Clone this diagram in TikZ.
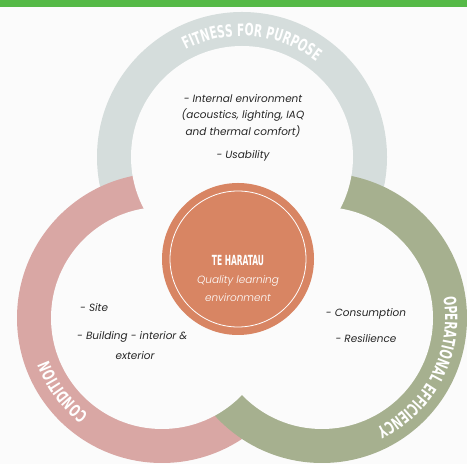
\documentclass[tikz,border=0pt]{standalone}
\usepackage{fontspec}
\setmainfont{Poppins}
\newfontfamily\subfont{Poppins Light Italic}
\newfontfamily\capsfont{DejaVu Sans Condensed}[FakeStretch=0.7]
\newfontfamily\titlefont{DejaVu Sans Condensed}[FakeStretch=0.6]
\usetikzlibrary{decorations.text,positioning}
\definecolor{barGreen}{HTML}{55B947}
\definecolor{fitGrey}{HTML}{D5DDDC}
\definecolor{condPink}{HTML}{D9A7A4}
\definecolor{opGreen}{HTML}{A6B08F}
\definecolor{coreOrange}{HTML}{D88563}
\definecolor{paper}{HTML}{FBFBFB}
\definecolor{ink}{HTML}{262626}
\tikzset{
  ringtext/.style={decorate,decoration={text along path,text align=center,
    text color=white,text={|\capsfont\bfseries\fontsize{17}{17}\selectfont|#1}}},
  item/.style={font=\itshape\fontsize{10.5}{17}\selectfont,text=ink,inner sep=0pt,align=center},
  coretext/.style={text=white,inner sep=0pt}
}
\begin{document}
\begin{tikzpicture}[x=1bp,y=1bp]
\fill[paper] (0,0) rectangle (467,464);
\fill[barGreen] (0,457) rectangle (467,464);
\coordinate (fit) at (242,307);
\coordinate (cond) at (162,146);
\coordinate (oper) at (322,146);
\fill[fitGrey] (fit) circle[radius=145];
\fill[condPink] (cond) circle[radius=145];
\fill[opGreen] (oper) circle[radius=145];
\foreach \c in {fit,cond,oper}
  \fill[paper] (\c) circle[radius=111];
\path[ringtext=FITNESS FOR PURPOSE] (fit) ++(160:121) arc[start angle=160,end angle=10,radius=121];
\path[ringtext=CONDITION] (cond) ++(290:121) arc[start angle=290,end angle=143,radius=121];
\path[ringtext=OPERATIONAL EFFICIENCY] (oper) ++(63:123) arc[start angle=63,end angle=-117,radius=123];
\node[circle,fill=coreOrange,minimum size=152bp,inner sep=0pt] (core) at (238,205) {};
\draw[white,line width=0.8bp] (core.center) circle[radius=68];
\node[coretext,font=\titlefont\bfseries\fontsize{14}{14}\selectfont] (title) at (238,203) {TE HARATAU};
\node[coretext,font=\subfont\fontsize{10.5}{18}\selectfont,align=center,below=9bp of title] (subtitle) {Quality learning\\environment};
\node[item] (fitlist) at (243,348) {- Internal environment\\(acoustics, lighting, IAQ\\and thermal comfort)};
\node[item,below=12bp of fitlist] (usability) {- Usability};
\node[item,anchor=west] (site) at (80,156) {- Site};
\node[item,anchor=west] (building) at (77,127) {- Building - interior \&};
\node[item] (exterior) at (135,108) {exterior};
\node[item] (consumption) at (366,150) {- Consumption};
\node[item,below=15bp of consumption] (resilience) {- Resilience};
\end{tikzpicture}
\end{document}
